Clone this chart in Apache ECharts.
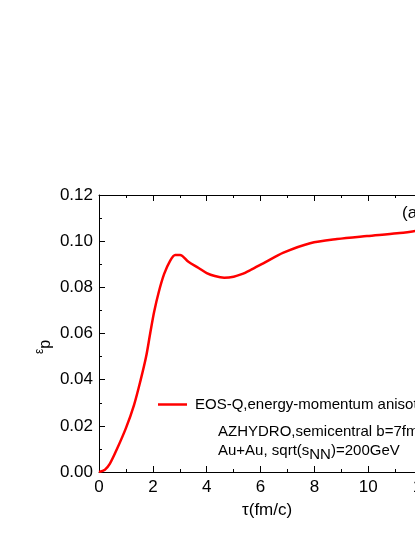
<!DOCTYPE html>
<html>
<head>
<meta charset="utf-8">
<script src="https://cdn.jsdelivr.net/npm/echarts@6/dist/echarts.min.js"></script>
<style>
  html, body { margin: 0; padding: 0; background: #fff; }
  #chart { width: 415px; height: 537px; }
</style>
</head>
<body>
<div id="chart"></div>
<script>
// tau (fm/c) and eccentricity eps_p
const tau = [0, 0.22, 0.4, 0.65, 1.0, 1.3, 1.55, 1.75, 1.9, 2.05, 2.22, 2.42, 2.64, 2.83, 3.01,
  3.32, 3.7, 4.0, 4.3, 4.65, 5.0, 5.3, 5.61, 6.1, 6.85, 7.84, 8.84, 9.95, 11.07, 11.75, 12.5, 13.2];
const epsP = [0, 0.001, 0.0035, 0.0095, 0.019, 0.029, 0.040, 0.050, 0.060, 0.0695, 0.078, 0.0858, 0.0915, 0.094, 0.094,
  0.0911, 0.0884, 0.0862, 0.0849, 0.0842, 0.0846, 0.0857, 0.0874, 0.0904, 0.0950, 0.0991, 0.1009, 0.1022, 0.1034, 0.1044, 0.1056, 0.1066];
const seriesName = 'EOS-Q,energy-momentum anisotropy';
const noteLines = ['AZHYDRO,semicentral b=7fm', 'Au+Au, sqrt(s{sub|NN})=200GeV'];

const font = 'Liberation Sans';
const chart = echarts.init(document.getElementById('chart'));

const points = tau.map((t, i) => [t, epsP[i]]);

chart.setOption({
  animation: false,
  backgroundColor: '#fff',
  // the original plot runs past the right edge of the picture
  grid: { left: 99, top: 195, bottom: 65, width: 377, outerBoundsMode: 'none' },
  legend: {
    left: 158, top: 397, padding: 0,
    icon: 'rect',
    itemWidth: 29, itemHeight: 2.5, itemGap: 0,
    textStyle: { fontFamily: font, fontSize: 15, color: '#000', padding: [0, 0, 0, 3] },
    data: [seriesName]
  },
  xAxis: [{
    type: 'value', min: 0, max: 14, interval: 2,
    axisLine: { show: true, lineStyle: { color: '#000', width: 1 } },
    axisTick: { inside: true, length: 6, lineStyle: { color: '#000' } },
    minorTick: { show: true, splitNumber: 2, length: 3, lineStyle: { color: '#000' } },
    splitLine: { show: false },
    axisLabel: { fontFamily: font, fontSize: 17, color: '#000', margin: 7 }
  }, {
    type: 'value', min: 0, max: 14, interval: 2, position: 'top',
    axisLine: { show: true, lineStyle: { color: '#000', width: 1 } },
    axisTick: { inside: true, length: 6, lineStyle: { color: '#000' } },
    minorTick: { show: true, splitNumber: 2, length: 3, lineStyle: { color: '#000' } },
    splitLine: { show: false },
    axisLabel: { show: false }
  }],
  yAxis: {
    type: 'value', min: 0, max: 0.12, interval: 0.02,
    axisLine: { show: true, lineStyle: { color: '#000', width: 1 } },
    axisTick: { inside: true, length: 6, lineStyle: { color: '#000' } },
    minorTick: { show: true, splitNumber: 2, length: 3, lineStyle: { color: '#000' } },
    splitLine: { show: false },
    axisLabel: { fontFamily: font, fontSize: 17, color: '#000', margin: 6, formatter: v => v.toFixed(2) }
  },
  series: [{
    name: seriesName,
    type: 'line',
    data: points,
    smooth: 0.3,
    symbol: 'none',
    lineStyle: { color: '#ff0000', width: 2.5 },
    itemStyle: { color: '#ff0000' }
  }],
  graphic: [
    { type: 'text', x: 44, y: 347, rotation: Math.PI / 2, style: {
        text: '{e|ε}{p|p}', textAlign: 'center', textVerticalAlign: 'middle',
        rich: {
          e: { font: '12px "Liberation Sans"', fill: '#000', verticalAlign: 'top', lineHeight: 20 },
          p: { font: '16px "Liberation Sans"', fill: '#000', verticalAlign: 'bottom', lineHeight: 20 }
        }
      } },
    { type: 'text', left: 218, top: 424, style: { text: noteLines[0], font: '15px "Liberation Sans"', fill: '#000' } },
    { type: 'text', left: 218, top: 443, style: {
        text: noteLines[1], font: '15px "Liberation Sans"', fill: '#000',
        rich: { sub: { font: '15px "Liberation Sans"', fill: '#000', verticalAlign: 'bottom', padding: [8, 0, 0, 0] } }
      } },
    { type: 'text', left: 402, top: 205, style: { text: '(a)', font: '17px "Liberation Sans"', fill: '#000' } },
    { type: 'text', left: 242, top: 502, style: { text: 'τ(fm/c)', font: '17px "Liberation Sans"', fill: '#000' } }
  ]
});
</script>
</body>
</html>
